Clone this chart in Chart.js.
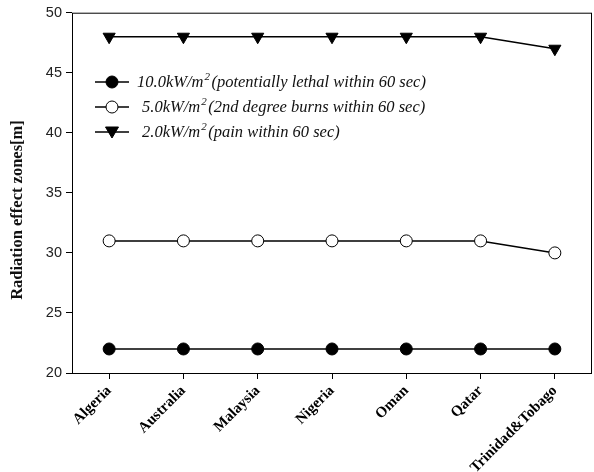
<!DOCTYPE html>
<html>
<head>
<meta charset="utf-8">
<script src="https://cdn.jsdelivr.net/npm/chart.js@4/dist/chart.umd.min.js"></script>
<style>
  html, body { margin: 0; padding: 0; background: #fff; }
  #wrap { width: 594px; height: 472px; }
</style>
</head>
<body>
<div id="wrap"><canvas id="myChart"></canvas></div>
<script>
/* データ */
const countries = ['Algeria', 'Australia', 'Malaysia', 'Nigeria', 'Oman', 'Qatar', 'Trinidad&Tobago'];
const lethal10 = [22, 22, 22, 22, 22, 22, 22];
const burns5 = [31, 31, 31, 31, 31, 31, 30];
const pain2 = [48, 48, 48, 48, 48, 48, 47];
const yTicks = [20, 25, 30, 35, 40, 45, 50];
const yTitle = 'Radiation effect zones[m]';
const legendText = [
  ['10.0kW/m', '(potentially lethal within 60 sec)'],
  ['5.0kW/m', '(2nd degree burns within 60 sec)'],
  ['2.0kW/m', '(pain within 60 sec)']
];

/* 枠線・軸タイトル・凡例（グラフの中に描く） */
const framePlugin = {
  id: 'frame',
  afterDraw(chart) {
    const c = chart.ctx;
    const a = chart.chartArea;
    c.save();
    c.strokeStyle = '#000';
    c.lineWidth = 1;
    c.strokeRect(a.left + 0.5, a.top + 0.5, a.right - a.left - 1, a.bottom - a.top);

    // y axis title
    c.save();
    c.translate(18, 210);
    c.rotate(-Math.PI / 2);
    c.fillStyle = '#111';
    c.font = 'bold 16.5px "Liberation Serif"';
    c.textAlign = 'center';
    c.textBaseline = 'middle';
    c.fillText(yTitle, 0, 0);
    c.restore();

    // legend
    chart.data.datasets.forEach(function (ds, i) {
      const y = 82 + i * 25;
      c.strokeStyle = '#000';
      c.lineWidth = 1.5;
      c.beginPath();
      c.moveTo(95, y);
      c.lineTo(129, y);
      c.stroke();
      c.fillStyle = ds.pointBackgroundColor;
      c.lineWidth = 1;
      c.beginPath();
      if (ds.pointStyle === 'triangle') {
        c.moveTo(112 - 6.5, y - 5);
        c.lineTo(112 + 6.5, y - 5);
        c.lineTo(112, y + 6);
        c.closePath();
      } else {
        c.arc(112, y, 6, 0, Math.PI * 2);
      }
      c.fill();
      c.stroke();

      c.fillStyle = '#111';
      c.textBaseline = 'middle';
      c.textAlign = 'left';
      c.font = 'italic 16.5px "Liberation Serif"';
      const x0 = i === 0 ? 137 : 142;
      c.fillText(legendText[i][0], x0, y + 1);
      const w1 = c.measureText(legendText[i][0]).width;
      c.font = 'italic 11px "Liberation Serif"';
      c.fillText('2', x0 + w1 + 1, y - 5);
      c.font = 'italic 16.5px "Liberation Serif"';
      c.fillText(legendText[i][1], x0 + w1 + 8, y + 1);
    });
    c.restore();
  }
};

const ctx = document.getElementById('myChart').getContext('2d');
const myChart = new Chart(ctx, {
  type: 'line',
  data: {
    labels: countries,
    datasets: [
      {
        label: '10.0kW/m2(potentially lethal within 60 sec)',
        data: lethal10,
        borderColor: '#000',
        borderWidth: 1.5,
        pointStyle: 'circle',
        pointRadius: 6,
        pointBackgroundColor: '#000',
        pointBorderColor: '#000',
        pointBorderWidth: 1
      },
      {
        label: '5.0kW/m2(2nd degree burns within 60 sec)',
        data: burns5,
        borderColor: '#000',
        borderWidth: 1.5,
        pointStyle: 'circle',
        pointRadius: 6,
        pointBackgroundColor: '#fff',
        pointBorderColor: '#000',
        pointBorderWidth: 1
      },
      {
        label: '2.0kW/m2(pain within 60 sec)',
        data: pain2,
        borderColor: '#000',
        borderWidth: 1.5,
        pointStyle: 'triangle',
        rotation: 180,
        pointRadius: 7,
        pointBackgroundColor: '#000',
        pointBorderColor: '#000',
        pointBorderWidth: 1
      }
    ]
  },
  options: {
    responsive: true,
    maintainAspectRatio: false,
    animation: false,
    layout: { autoPadding: false, padding: { left: 0, right: 2, top: 12, bottom: 0 } },
    plugins: {
      legend: { display: false },
      tooltip: { enabled: false }
    },
    scales: {
      x: {
        type: 'category',
        offset: true,
        afterFit(scale) {
          scale.height = 99;
        },
        grid: { display: true, drawOnChartArea: false, drawTicks: true, tickLength: 6, color: '#000', offset: false },
        border: { display: false },
        ticks: {
          color: '#000',
          minRotation: 45,
          maxRotation: 45,
          padding: 3,
          font: { family: '"Liberation Serif"', size: 15, weight: 'bold' }
        }
      },
      y: {
        min: 20,
        max: 50,
        afterFit(scale) {
          scale.width = 72;
        },
        afterBuildTicks(scale) { scale.ticks = yTicks.map(function (v) { return { value: v }; }); },
        grid: { display: true, drawOnChartArea: false, drawTicks: true, tickLength: 6, color: '#000' },
        border: { display: false },
        ticks: {
          color: '#222',
          padding: 4,
          font: { family: '"Liberation Sans"', size: 14.5 }
        }
      }
    }
  },
  plugins: [framePlugin]
});
</script>
</body>
</html>
